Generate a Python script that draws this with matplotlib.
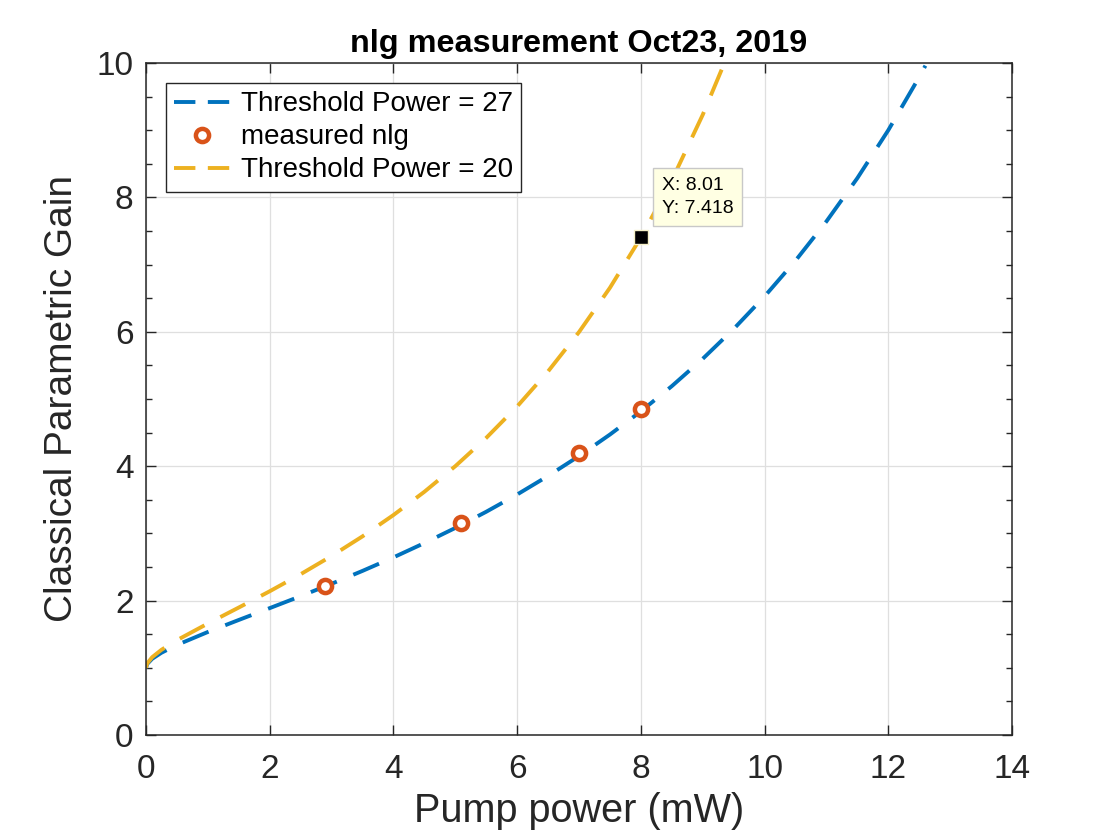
import matplotlib
matplotlib.use("Agg")
import matplotlib.pyplot as plt
from matplotlib.ticker import MultipleLocator

plt.rcParams['font.family'] = ['Liberation Sans', 'DejaVu Sans']

# Curve for threshold power 27 (pump power mW, gain)
p27 = [0, 0.02, 0.1, 0.25, 0.5, 1, 1.5, 2, 2.5, 3, 3.5, 4, 4.5, 5, 5.5, 6, 6.5,
       7, 7.5, 8, 8.5, 9, 9.5, 10, 10.5, 11, 11.5, 12, 12.5, 12.6]
g27 = [1.0, 1.057, 1.134, 1.224, 1.340, 1.533, 1.712, 1.888, 2.066, 2.25, 2.442,
       2.643, 2.856, 3.081, 3.322, 3.579, 3.855, 4.151, 4.471, 4.816, 5.191,
       5.598, 6.042, 6.527, 7.059, 7.643, 8.287, 9.0, 9.791, 9.960]

# Measured nlg
p_meas = [2.9, 5.1, 7.0, 8.0]
g_meas = [2.22, 3.15, 4.19, 4.85]

# Curve for threshold power 20
p20 = [0, 0.02, 0.1, 0.25, 0.5, 1, 1.5, 2, 2.5, 3, 3.5, 4, 4.5, 5, 5.5, 6, 6.5,
       7, 7.5, 8, 8.5, 9, 9.35, 9.4]
g20 = [1.0, 1.066, 1.158, 1.268, 1.411, 1.659, 1.897, 2.139, 2.393, 2.664, 2.956,
       3.273, 3.619, 4.0, 4.421, 4.889, 5.411, 5.996, 6.655, 7.403, 8.254,
       9.229, 9.998, 10.114]

# Data tip
tip_x = 8.01
tip_y = 7.418

blue = '#0072BD'
orange = '#D95319'
yellow = '#EDB120'
txt = '#262626'

fig = plt.figure(figsize=(11.2, 8.4), dpi=100)
ax = fig.add_axes([146/1120, 1 - 735/840, (1012-146)/1120, (735-63)/840])

dash = (7.2, 4.6)
ax.plot(p27, g27, '--', color=blue, lw=2.8, dashes=dash, label='Threshold Power = 27')
ax.plot(p_meas, g_meas, 'o', mfc='white', mec=orange, mew=3.2, ms=9.5, ls='none',
        label='measured nlg')
ax.plot(p20, g20, '--', color=yellow, lw=2.8, dashes=dash, label='Threshold Power = 20')

ax.plot([tip_x], [tip_y], 's', color='black', mec='#F5F0C8', mew=1, ms=10, zorder=5)
ax.annotate('X: %.2f\nY: %.3f' % (tip_x, tip_y), xy=(tip_x, tip_y),
            xytext=(14.5, 14.0), textcoords='offset points', fontsize=14,
            color='black', linespacing=1.45, va='bottom', ha='left',
            bbox=dict(boxstyle='square,pad=0.45', fc='#FFFFE3', ec='#C8C8C8', lw=1),
            zorder=6)

ax.set_xlim(0, 14)
ax.set_ylim(0, 10)
ax.xaxis.set_major_locator(MultipleLocator(2))
ax.yaxis.set_major_locator(MultipleLocator(2))
ax.yaxis.set_minor_locator(MultipleLocator(0.5))
ax.grid(True, which='major', color='#DFDFDF', lw=0.9)
ax.set_axisbelow(True)
ax.tick_params(which='both', direction='in', top=True, right=True,
               labelsize=24, colors=txt, width=1)
ax.tick_params(which='major', length=7)
ax.tick_params(which='minor', length=4)
ax.tick_params(axis='x', pad=14)
ax.tick_params(axis='y', pad=9)
for s in ax.spines.values():
    s.set_color(txt)
    s.set_linewidth(1.1)

ax.set_xlabel('Pump power (mW)', fontsize=28.5, color=txt, labelpad=5)
ax.set_ylabel('Classical Parametric Gain', fontsize=28, color=txt, labelpad=12)
ax.set_title('nlg measurement Oct23, 2019', fontsize=23.3, fontweight='bold', color='black', pad=8)

leg = ax.legend(loc='upper left', bbox_to_anchor=(0.0, 1.0), fontsize=20,
                frameon=True, fancybox=False, edgecolor=txt, framealpha=1,
                handlelength=2.0, borderpad=0.3, labelspacing=0.25, handletextpad=0.4,
                borderaxespad=0.72)
leg.get_frame().set_linewidth(1)
for ln in leg.get_lines():
    if ln.get_linestyle() not in ('None', 'none', ''):
        ln.set_dashes((5.5, 3.2))

fig.savefig('out.png', dpi=100)
